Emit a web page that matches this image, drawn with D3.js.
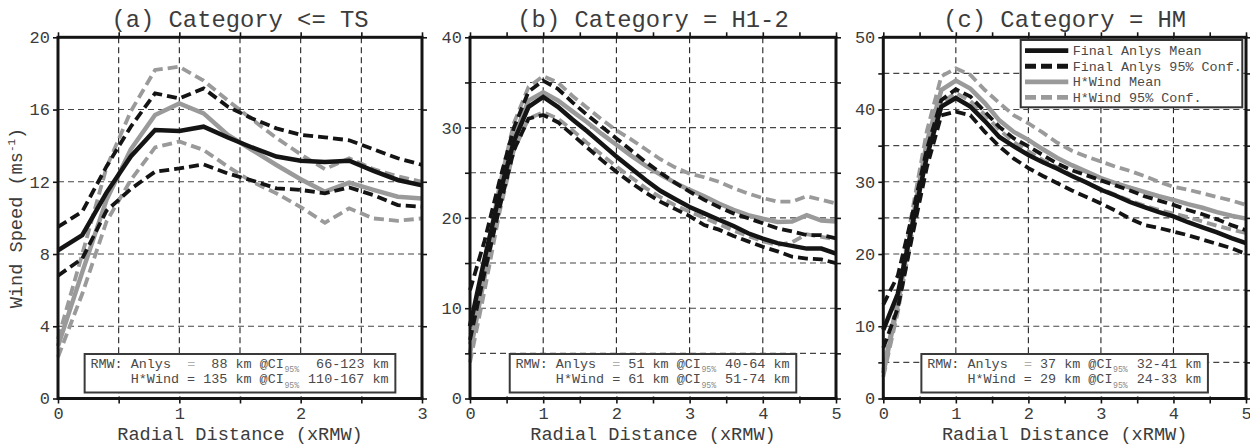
<!DOCTYPE html>
<html><head><meta charset="utf-8">
<script src="https://cdn.jsdelivr.net/npm/d3@7/dist/d3.min.js"></script>
<style>body{margin:0;background:#fff}svg{display:block}</style>
</head><body>
<svg id="c" width="1250" height="444"></svg>
<script>
// ---------------- DATA ----------------
const radialA  = [0,0.2,0.4,0.6,0.8,1.0,1.2,1.4,1.6,1.8,2.0,2.2,2.4,2.6,2.8,3.0];
const radialBC = [0,0.2,0.4,0.6,0.8,1.0,1.2,1.4,1.6,1.8,2.0,2.2,2.4,2.6,2.8,3.0,3.2,3.4,3.6,3.8,4.0,4.2,4.4,4.6,4.8,5.0];

// (a) Category <= TS
const aAnlysMean = [8.2,9.05,11.4,13.4,14.87,14.81,15.05,14.45,13.9,13.4,13.17,13.1,13.17,12.6,12.1,11.8];
const aAnlysUp   = [9.5,10.35,12.85,15.05,16.9,16.62,17.17,16.16,15.5,14.96,14.6,14.46,14.3,13.8,13.3,12.94];
const aAnlysLo   = [6.8,7.75,10.4,11.6,12.56,12.74,12.96,12.46,12.07,11.64,11.55,11.36,11.69,11.26,10.71,10.62];
const aHwMean    = [2.9,7.0,11.0,13.8,15.7,16.34,15.79,14.6,13.76,12.93,12.14,11.45,11.95,11.55,11.17,11.08];
const aHwUp      = [3.3,8.0,12.8,15.9,18.19,18.37,17.6,16.5,15.45,14.43,13.52,12.7,13.3,12.7,12.3,12.0];
const aHwLo      = [2.3,5.8,9.8,12.1,13.9,14.23,13.76,12.84,12.0,11.36,10.6,9.73,10.53,9.97,9.84,9.97];

// (b) Category = H1-2
const bAnlysMean = [8.0,15.5,22.5,28.5,32.3,33.4,32.3,30.9,29.6,28.2,26.8,25.5,24.2,23.0,22.1,21.2,20.5,19.8,19.1,18.3,17.7,17.2,16.9,16.6,16.6,16.05];
const bAnlysUp   = [12.0,17.5,24.0,30.0,34.0,35.2,34.3,32.8,31.4,30.1,28.8,27.5,26.2,25.0,23.9,22.9,22.0,21.2,20.5,19.96,19.4,18.85,18.5,18.1,18.1,17.74];
const bAnlysLo   = [6.5,14.0,21.0,27.5,31.0,31.4,30.6,29.2,27.8,26.4,25.1,23.9,22.8,21.8,21.0,20.2,19.2,18.7,18.0,17.4,16.8,16.3,15.7,15.5,15.4,15.0];
const bHwMean    = [5.0,13.5,22.0,29.0,33.0,33.9,33.0,31.8,30.6,29.3,28.1,26.9,25.8,24.8,23.9,23.1,22.4,21.6,20.9,20.3,19.9,19.55,19.6,20.3,19.7,19.6];
const bHwUp      = [6.0,15.0,23.5,30.5,34.5,35.7,35.0,33.5,32.2,30.9,29.7,28.7,27.6,26.5,25.6,24.9,24.5,24.0,23.3,22.7,22.2,21.8,21.8,22.4,22.0,21.6];
const bHwLo      = [4.0,12.0,20.5,27.5,31.0,31.7,31.0,29.7,28.3,27.0,25.7,24.5,23.3,22.3,21.4,20.7,20.0,19.3,18.6,18.0,17.4,17.0,17.3,18.2,17.9,17.6];

// (c) Category = HM
const cAnlysMean = [9.5,14.5,24.0,33.5,40.4,41.6,40.4,38.4,36.2,34.9,33.7,32.7,31.8,30.8,29.9,28.9,28.1,27.2,26.5,25.8,25.2,24.4,23.7,23.0,22.2,21.5];
const cAnlysUp   = [13.0,17.0,25.5,34.5,41.3,42.8,41.8,39.7,37.6,36.0,34.9,33.7,32.5,31.6,30.9,30.2,29.5,28.8,28.0,27.4,26.8,26.1,25.5,24.8,24.0,23.3];
const cAnlysLo   = [7.0,12.5,22.5,32.0,39.2,39.7,39.2,36.9,34.9,33.2,31.9,30.8,29.8,28.8,27.9,27.0,26.0,24.9,24.0,23.6,23.1,22.6,22.0,21.4,20.8,20.0];
const cHwMean    = [3.5,13.0,24.5,35.5,42.7,44.0,42.9,40.9,38.5,36.9,35.8,34.5,33.3,32.3,31.4,30.5,29.8,29.2,28.6,28.0,27.5,26.9,26.4,25.8,25.3,24.9];
const cHwUp      = [4.0,14.0,26.0,37.0,44.6,45.7,44.8,42.7,40.9,39.2,38.1,36.8,35.4,34.3,33.5,32.8,32.1,31.5,30.8,30.0,29.3,28.9,28.4,27.9,27.4,26.8];
const cHwLo      = [3.0,12.0,23.0,34.0,41.0,42.3,41.2,39.3,37.2,35.5,34.2,33.0,32.0,30.9,29.9,29.0,28.2,27.4,26.7,26.1,25.6,25.1,24.5,23.9,23.4,22.9];

// ticks / grid
const xTicksA  = [0,0.5,1,1.5,2,2.5,3];
const xTicksBC = [0,0.5,1,1.5,2,2.5,3,3.5,4,4.5,5];
const xGridA   = [0.5,1,1.5,2,2.5];
const xGridBC  = [1,2,3,4];
const yTicksA  = [0,4,8,12,16,20];
const yGridA   = [4,8,12,16];
const yTicksB  = [0,5,10,15,20,25,30,35,40];
const yLabelsB = [0,10,20,30,40];
const yGridB   = [5,10,15,20,25,30,35];
const yTicksC  = [0,5,10,15,20,25,30,35,40,45,50];
const yLabelsC = [0,10,20,30,40,50];
const yGridC   = [5,10,15,20,25,30,35,40,45];

const titles = ["(a) Category <= TS", "(b) Category = H1-2", "(c) Category = HM"];
const rmwLines = [
  ["RMW: Anlys  =  88 km @CI    66-123 km", "     H*Wind = 135 km @CI   110-167 km", 24],
  ["RMW: Anlys  = 51 km @CI   40-64 km",    "     H*Wind = 61 km @CI   51-74 km", 23],
  ["RMW: Anlys  = 37 km @CI   32-41 km",    "     H*Wind = 29 km @CI   24-33 km", 23]
];
const legendLabels = ["Final Anlys Mean","Final Anlys 95% Conf.","H*Wind Mean","H*Wind 95% Conf."];
const xAxisTitle = "Radial Distance (xRMW)";

// ---------------- DRAW ----------------
const FONT = "'Nimbus Mono PS','Courier New','FreeMono','Liberation Mono',monospace";
const BLACK = "#141414", GRAY = "#9a9a9a", TXT = "#3c3c3c";
const TOP = 37.3, BOT = 398.5;
const svg = d3.select("#c");

const panels = [
  {left:58,  right:422,  xMax:3, yMax:20, xs:radialA, xTicks:xTicksA, xGrid:xGridA, yTicks:yTicksA, yLabels:yTicksA, yGrid:yGridA,
   s:[aHwUp,aHwLo,aHwMean,aAnlysUp,aAnlysLo,aAnlysMean]},
  {left:470, right:836,  xMax:5, yMax:40, xs:radialBC, xTicks:xTicksBC, xGrid:xGridBC, yTicks:yTicksB, yLabels:yLabelsB, yGrid:yGridB,
   s:[bHwUp,bHwLo,bHwMean,bAnlysUp,bAnlysLo,bAnlysMean]},
  {left:883.3, right:1246, xMax:5, yMax:50, xs:radialBC, xTicks:xTicksBC, xGrid:xGridBC, yTicks:yTicksC, yLabels:yLabelsC, yGrid:yGridC,
   s:[cHwUp,cHwLo,cHwMean,cAnlysUp,cAnlysLo,cAnlysMean]}
];
const styles = [
  {c:GRAY, w:3.8, d:"10,5"},{c:GRAY, w:3.8, d:"10,5"},{c:GRAY, w:4.5, d:null},
  {c:BLACK,w:3.8, d:"10,5"},{c:BLACK,w:3.8, d:"10,5"},{c:BLACK,w:4.5, d:null}
];

const CW = 8.06, FS = 13.43;

function seg(g, str, col, tx, yy, fill) {
  const lead = str.length - str.trimStart().length;
  const s = str.trim();
  if (!s) return;
  g.append("text").attr("x", tx + (col + lead) * CW).attr("y", yy)
    .attr("xml:space", "preserve").style("white-space", "pre")
    .style("font-family", FONT).style("font-size", FS + "px").attr("fill", fill).text(s);
}

panels.forEach((p, i) => {
  const x = d3.scaleLinear().domain([0, p.xMax]).range([p.left, p.right]);
  const y = d3.scaleLinear().domain([0, p.yMax]).range([BOT, TOP]);
  const g = svg.append("g");

  // grid
  g.selectAll(".vg").data(p.xGrid).join("line")
    .attr("x1", d => x(d)).attr("x2", d => x(d)).attr("y1", TOP).attr("y2", BOT)
    .attr("stroke", "#222").attr("stroke-width", 1.1).attr("stroke-dasharray", "6,4");
  g.selectAll(".hg").data(p.yGrid).join("line")
    .attr("x1", p.left).attr("x2", p.right).attr("y1", d => y(d)).attr("y2", d => y(d))
    .attr("stroke", "#444").attr("stroke-width", 1.1).attr("stroke-dasharray", "6,4");

  // series lines
  const line = d3.line().x((d, j) => x(p.xs[j])).y(d => y(d));
  p.s.forEach((arr, k) => {
    const st = styles[k];
    g.append("path").datum(arr).attr("d", line).attr("fill", "none")
      .attr("stroke", st.c).attr("stroke-width", st.w)
      .attr("stroke-dasharray", st.d).attr("stroke-linejoin", "miter");
  });

  // axes
  const fmt = d => Number.isInteger(d) ? d : "";
  const styleAxis = (sel) => {
    sel.select(".domain").remove();
    sel.selectAll(".tick line").attr("stroke", BLACK).attr("stroke-width", 1.6);
    sel.selectAll(".tick text").attr("fill", TXT).style("font-family", FONT).style("font-size", "17px");
  };
  g.append("g").attr("transform", `translate(0,${BOT})`)
    .call(d3.axisBottom(x).tickValues(p.xTicks).tickSize(5).tickPadding(3).tickFormat(fmt)).call(styleAxis)
    .selectAll(".tick line").attr("y1", -2);
  g.append("g").attr("transform", `translate(0,${TOP})`)
    .call(d3.axisTop(x).tickValues(p.xTicks).tickSize(5).tickFormat("")).call(styleAxis);
  g.append("g").attr("transform", `translate(${p.left},0)`)
    .call(d3.axisLeft(y).tickValues(p.yTicks).tickSize(5).tickPadding(3)
      .tickFormat(d => p.yLabels.includes(d) ? d : "")).call(styleAxis);
  g.append("g").attr("transform", `translate(${p.right},0)`)
    .call(d3.axisRight(y).tickValues(p.yTicks).tickSize(5).tickFormat("")).call(styleAxis);

  // frame
  g.append("rect").attr("x", p.left).attr("y", TOP).attr("width", p.right - p.left).attr("height", BOT - TOP)
    .attr("fill", "none").attr("stroke", BLACK).attr("stroke-width", 3);

  // title
  const cx = (p.left + p.right) / 2;
  g.append("text").attr("x", cx).attr("y", 26.5).attr("text-anchor", "middle")
    .style("font-family", FONT).style("font-size", "23.8px").attr("fill", TXT).text(titles[i]);
  // x axis title
  g.append("text").attr("x", cx).attr("y", 439.5).attr("text-anchor", "middle")
    .style("font-family", FONT).style("font-size", "18.6px").attr("fill", TXT).text(xAxisTitle);

  // RMW annotation box
  const [l1, l2, subCol] = rmwLines[i];
  const cols = Math.max(l1.length, l2.length);
  const bw = cols * CW + 12.5;
  const bx = cx - bw / 2, by = 354, bh = 38.5;
  g.append("rect").attr("x", bx).attr("y", by).attr("width", bw).attr("height", bh)
    .attr("fill", "#fff").attr("stroke", "#3a3a3a").attr("stroke-width", 2);
  const tx = bx + 5.8;
  [[l1, 367.6], [l2, 383]].forEach(([ln, yy], li) => {
    const pre = ln.slice(0, subCol), post = ln.slice(subCol + 3);
    if (li === 0) {
      const eq = pre.indexOf("=");
      seg(g, pre.slice(0, eq), 0, tx, yy, "#4a4a4a");
      seg(g, "=", eq, tx, yy, "#b0b0b0");
      seg(g, pre.slice(eq + 1), eq + 1, tx, yy, "#4a4a4a");
    } else {
      seg(g, pre, 0, tx, yy, "#4a4a4a");
    }
    seg(g, post, subCol + 3, tx, yy, "#4a4a4a");
    g.append("text").attr("x", tx + subCol * CW + 0.5).attr("y", yy + 4.8)
      .style("font-family", FONT).style("font-size", "8.2px").attr("fill", "#8a8a8a").text("95%");
  });
});

// y axis title
const yt = svg.append("text").attr("transform", "translate(22,218) rotate(-90)").attr("text-anchor", "middle")
  .style("font-family", FONT).style("font-size", "18.6px").attr("fill", TXT);
yt.append("tspan").text("Wind Speed (ms");
yt.append("tspan").attr("dy", -7).style("font-size", "11px").text("-1");
yt.append("tspan").attr("dy", 7).text(")");

// legend (panel c)
const lg = svg.append("g");
lg.append("rect").attr("x", 1020.7).attr("y", 40).attr("width", 221.6).attr("height", 67.3)
  .attr("fill", "#fff").attr("stroke", "#333").attr("stroke-width", 2);
const legStyles = [styles[5], {c:BLACK,w:4.5,d:"11,5"}, styles[2], {c:GRAY,w:4.5,d:"11,5"}];
legendLabels.forEach((lab, k) => {
  const yy = 50.7 + k * 15.55;
  lg.append("line").attr("x1", 1025).attr("x2", 1068.3).attr("y1", yy).attr("y2", yy)
    .attr("stroke", legStyles[k].c).attr("stroke-width", 4.8).attr("stroke-dasharray", legStyles[k].d);
  lg.append("text").attr("x", 1072.7).attr("y", yy + 4.5)
    .style("font-family", FONT).style("font-size", FS + "px").attr("fill", "#4a4a4a").text(lab);
});
</script>
</body></html>
